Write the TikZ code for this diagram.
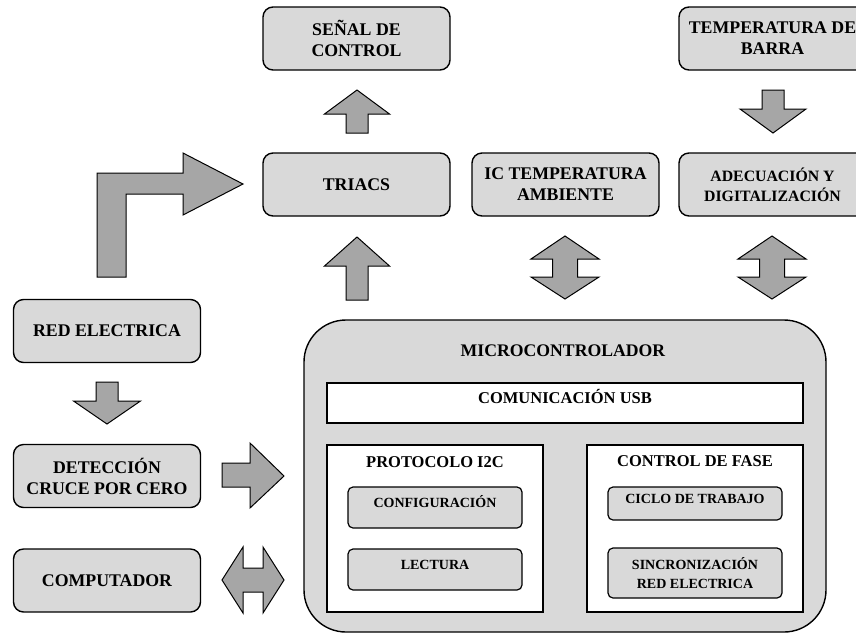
\documentclass[tikz,border=0pt]{standalone}
\usepackage{fontspec}
\setmainfont{Liberation Serif}
\usetikzlibrary{positioning, calc}
\colorlet{boxFill}{gray!30}
\colorlet{arrowFill}{gray!70}
\tikzstyle{block}=[draw=black, fill=boxFill, line width=1.4pt, rounded corners=10pt,
  minimum width=187pt, minimum height=63pt, align=center, inner sep=2pt,
  font=\bfseries\fontsize{17.8}{21}\selectfont]
\tikzstyle{subBlock}=[draw=black, fill=boxFill, line width=1.2pt, rounded corners=5pt,
  minimum width=174pt, align=center, inner sep=1pt,
  font=\bfseries\fontsize{14}{19}\selectfont]
\tikzstyle{panel}=[draw=black, fill=white, line width=1.4pt, inner sep=0pt]
\tikzstyle{panelTitle}=[inner sep=0pt, font=\bfseries\fontsize{16.5}{19}\selectfont]
\tikzstyle{blockArrow}=[draw=black, fill=arrowFill, line width=1pt, line join=miter]

\begin{document}
\begin{tikzpicture}[x=1pt, y=-1pt]
      \useasboundingbox (0,0) rectangle (856,633);

      % upper row
      \node[block] (senal) at (356.5,38.5) {SEÑAL DE\\CONTROL};
      \node[block] (barra) at (772.5,38.5) {TEMPERATURA DE\\BARRA};
      \node[block] (triacs) at (356.5,184.5) {TRIACS};
      \node[block] (ambiente) at (565.5,184.5) {IC TEMPERATURA\\AMBIENTE};
      \node[block, font=\bfseries\fontsize{15.8}{20}\selectfont] (adecuacion) at (772.5,184.5)
        {ADECUACIÓN Y\\DIGITALIZACIÓN};

      % left column
      \node[block] (red) at (107,331) {RED ELECTRICA};
      \node[block] (cruce) at (107,476) {DETECCIÓN\\CRUCE POR CERO};
      \node[block] (pc) at (107,580.5) {COMPUTADOR};

      % microcontroller
      \node[draw=black, fill=boxFill, line width=1.4pt, rounded corners=42pt,
        minimum width=522pt, minimum height=312pt] (micro) at (565,476) {};
      \node[inner sep=0pt, font=\bfseries\fontsize{17.7}{21}\selectfont] (microTitle)
        at (563,351) {MICROCONTROLADOR};
      \node[panel, minimum width=476pt, minimum height=40pt, text height=11pt, text depth=11pt,
        font=\bfseries\fontsize{16.5}{19}\selectfont] (usb) at (565,403) {COMUNICACIÓN USB};
      \node[panel, minimum width=216pt, minimum height=167pt] (i2c) at (435,528.5) {};
      \node[panel, minimum width=216pt, minimum height=167pt] (fase) at (695,528.5) {};
      \node[panelTitle] (i2cTitle) at (435,462) {PROTOCOLO I2C};
      \node[panelTitle] (faseTitle) at (695,461) {CONTROL DE FASE};
      \node[subBlock, minimum height=41pt, text height=9.5pt, text depth=9.5pt] (config)
        at (435,507.5) {CONFIGURACIÓN};
      \node[subBlock, minimum height=41pt, text height=9.5pt, text depth=9.5pt] (lectura)
        at (435,569.5) {LECTURA};
      \node[subBlock, minimum height=33pt, text height=9.5pt, text depth=9.5pt] (ciclo)
        at (695,503.5) {CICLO DE TRABAJO};
      \node[subBlock, minimum height=50pt] (sincro) at (695,573) {SINCRONIZACIÓN\\RED ELECTRICA};

      % single vertical arrows: x / base / tip / head base / shaft half / head half
      \foreach \x/\yb/\yt/\yh/\s/\h in {357/133/90/114/11/32.5, 357/300/237/266/11/32.5,
          773/90/133/109/11/33, 107/382/424/401/11/33.5}
      \filldraw[blockArrow] (\x-\s,\yb) -- (\x-\s,\yh) -- (\x-\h,\yh) -- (\x,\yt)
        -- (\x+\h,\yh) -- (\x+\s,\yh) -- (\x+\s,\yb) -- cycle;

      % double vertical arrows
      \foreach \x in {565,772}
      \filldraw[blockArrow] (\x,236) -- (\x+34,259) -- (\x+12.5,259) -- (\x+12.5,277)
        -- (\x+34,277) -- (\x,299) -- (\x-34,277) -- (\x-12.5,277) -- (\x-12.5,259)
        -- (\x-34,259) -- cycle;

      % bent arrow to the triacs
      \filldraw[blockArrow] (97,277) -- (97,173) -- (183,173) -- (183,153) -- (243,184)
        -- (183,215) -- (183,194) -- (126,194) -- (126,277) -- cycle;

      % arrow to the microcontroller
      \filldraw[blockArrow] (222,463) -- (250,463) -- (250,443) -- (284,476) -- (250,508)
        -- (250,487) -- (222,487) -- cycle;

      % double horizontal arrow
      \filldraw[blockArrow] (222,580) -- (243,547) -- (243,568) -- (263,568) -- (263,547)
        -- (284,580) -- (263,613) -- (263,592) -- (243,592) -- (243,613) -- cycle;
    \end{tikzpicture}
\end{document}
